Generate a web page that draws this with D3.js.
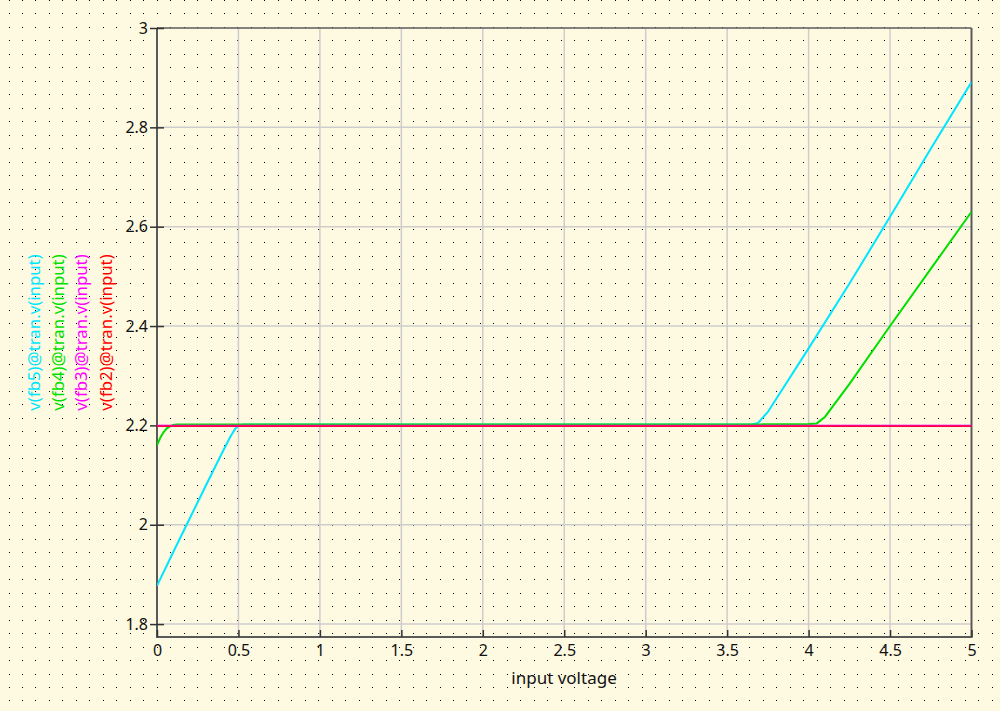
<!DOCTYPE html>
<html>
<head>
<meta charset="utf-8">
<script src="https://cdn.jsdelivr.net/npm/d3@7"></script>
<style>
  html, body { margin: 0; padding: 0; background: #fef9e1; }
  svg { display: block; }
  text { font-family: "Noto Sans", "Open Sans", sans-serif; }
</style>
</head>
<body>
<svg id="chart" width="1000" height="711"></svg>
<script>
// ---- data ----
const xTicks = [0, 0.5, 1, 1.5, 2, 2.5, 3, 3.5, 4, 4.5, 5];
const yTicks = [1.8, 2, 2.2, 2.4, 2.6, 2.8, 3];
const xTickLabels = ["0", "0.5", "1", "1.5", "2", "2.5", "3", "3.5", "4", "4.5", "5"];
const yTickLabels = ["1.8", "2", "2.2", "2.4", "2.6", "2.8", "3"];

const seriesNames = ["v(fb5)@tran.v(input)", "v(fb4)@tran.v(input)", "v(fb3)@tran.v(input)", "v(fb2)@tran.v(input)"];
const seriesColors = ["#00e6ff", "#00e000", "#ff00ff", "#ff0000"];

// v(fb2): flat
const fb2X = [0, 5];
const fb2Y = [2.199, 2.199];
// v(fb3): flat
const fb3X = [0, 5];
const fb3Y = [2.2, 2.2];
// v(fb4)
const fb4X = [0, 0.02, 0.04, 0.06, 0.08, 0.1, 0.12, 3.7, 4.0, 4.05, 4.1, 4.25, 4.5, 4.75, 5.0];
const fb4Y = [2.160, 2.175, 2.186, 2.194, 2.198, 2.201, 2.202, 2.202, 2.203, 2.204, 2.217, 2.283, 2.400, 2.515, 2.630];
// v(fb5)
const fb5X = [0, 0.1, 0.2, 0.3, 0.4, 0.45, 0.48, 0.5, 0.53, 3.65, 3.69, 3.75, 4.0, 4.25, 4.5, 4.75, 5.0];
const fb5Y = [1.877, 1.945, 2.012, 2.079, 2.145, 2.177, 2.193, 2.200, 2.202, 2.202, 2.205, 2.227, 2.355, 2.485, 2.620, 2.757, 2.891];

const xLabel = "input voltage";

// ---- drawing ----
const W = 1000, H = 711;
const svg = d3.select("#chart");

const x = d3.scaleLinear().domain([0, 5]).range([157, 971.5]);
const y = d3.scaleLinear().domain([1.774, 3]).range([637, 28]);

// background dots
const dotStep = 13.47;
const dots = [];
for (let i = 0; 9 + i * dotStep < W; i++) {
  for (let j = 0; 0.5 + j * dotStep < H; j++) {
    dots.push([Math.floor(9 + i * dotStep), Math.floor(0.5 + j * dotStep)]);
  }
}
svg.append("g").selectAll("rect").data(dots).join("rect")
  .attr("x", d => d[0]).attr("y", d => d[1])
  .attr("width", 1).attr("height", 1)
  .attr("fill", "#000")
  .attr("shape-rendering", "crispEdges");

// grid
const grid = svg.append("g").attr("stroke", "#cdcdcd").attr("stroke-width", 1.5);
grid.selectAll("line.v").data(xTicks.slice(1, -1)).join("line")
  .attr("x1", d => x(d)).attr("x2", d => x(d))
  .attr("y1", y(3)).attr("y2", y(1.774));
grid.selectAll("line.h").data(yTicks.slice(0, -1)).join("line")
  .attr("x1", x(0)).attr("x2", x(5))
  .attr("y1", d => y(d)).attr("y2", d => y(d));

// frame
const frame = svg.append("g").attr("stroke", "#5a5a5a").attr("fill", "none");
frame.append("line").attr("x1", x(0)).attr("x2", x(5)).attr("y1", y(3)).attr("y2", y(3)).attr("stroke-width", 1.5);
frame.append("line").attr("x1", x(5)).attr("x2", x(5)).attr("y1", y(3)).attr("y2", y(1.774)).attr("stroke-width", 2);
frame.append("line").attr("x1", x(0)).attr("x2", x(0)).attr("y1", y(3)).attr("y2", y(1.774) + 1).attr("stroke-width", 2);
frame.append("line").attr("x1", x(0) - 1).attr("x2", x(5) + 1).attr("y1", y(1.774)).attr("y2", y(1.774)).attr("stroke-width", 2);

// axes
const yAxis = d3.axisLeft(y).tickValues(yTicks).tickFormat((d, i) => yTickLabels[i])
  .tickSizeInner(7).tickSizeOuter(0).tickPadding(3);
const gy = svg.append("g").attr("transform", `translate(${x(0)},0)`).call(yAxis);
gy.select(".domain").remove();
gy.selectAll(".tick line").attr("x2", 7).attr("x1", -7).attr("stroke", "#333").attr("stroke-width", 1.5);
gy.selectAll(".tick text").attr("font-size", 16).attr("fill", "#111")
  .attr("font-family", "Noto Sans").attr("x", -9);

const xAxis = d3.axisBottom(x).tickValues(xTicks).tickFormat((d, i) => xTickLabels[i])
  .tickSizeInner(0).tickSizeOuter(0).tickPadding(8);
const gx = svg.append("g").attr("transform", `translate(0,${y(1.774)})`).call(xAxis);
gx.select(".domain").remove();
gx.selectAll(".tick line").attr("y1", 0).attr("y2", -7).attr("stroke", "#333").attr("stroke-width", 1.5);
gx.selectAll(".tick text").attr("font-size", 16).attr("fill", "#111")
  .attr("font-family", "Noto Sans");

// x label
svg.append("text").attr("x", 564).attr("y", 684)
  .attr("text-anchor", "middle").attr("font-size", 17).attr("fill", "#111")
  .text(xLabel);

// series
const line = d3.line().x(d => x(d[0])).y(d => y(d[1]));
const clip = svg.append("clipPath").attr("id", "clip").append("rect")
  .attr("x", x(0)).attr("y", y(3)).attr("width", x(5) - x(0)).attr("height", y(1.774) - y(3));
const plot = svg.append("g").attr("clip-path", "url(#clip)").attr("fill", "none").attr("stroke-width", 2);

const series = [
  { xs: fb5X, ys: fb5Y, c: seriesColors[0], o: 1 },
  { xs: fb4X, ys: fb4Y, c: seriesColors[1], o: 1 },
  { xs: fb2X, ys: fb2Y, c: seriesColors[3], o: 1 },
  { xs: fb3X, ys: fb3Y, c: seriesColors[2], o: 0.5 }
];
series.forEach(s => {
  plot.append("path").datum(s.xs.map((v, i) => [v, s.ys[i]]))
    .attr("d", line).attr("stroke", s.c).attr("stroke-opacity", s.o);
});

// legend (rotated)
const legX = [40, 63.5, 87, 111.5];
const legCy = (y(3) + y(1.774)) / 2;
seriesNames.forEach((n, i) => {
  svg.append("text")
    .attr("transform", `translate(${legX[i]},${legCy}) rotate(-90)`)
    .attr("text-anchor", "middle").attr("font-size", 16.8)
    .attr("fill", seriesColors[i]).text(n);
});
</script>
</body>
</html>
